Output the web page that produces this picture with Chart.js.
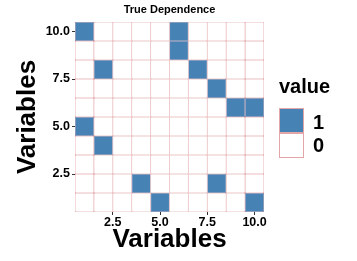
<!DOCTYPE html>
<html><head><meta charset="utf-8">
<script src="https://cdn.jsdelivr.net/npm/chart.js@4/dist/chart.umd.min.js"></script>
<style>
html,body{margin:0;padding:0;background:#fff;}
#wrap{position:relative;width:357px;height:261px;overflow:hidden;}
#c{position:absolute;left:0;top:0;}
.lg{position:absolute;font-family:"Liberation Sans",Arial,sans-serif;font-weight:bold;color:#000;line-height:1;white-space:nowrap;}
.key{position:absolute;box-sizing:border-box;width:25px;height:25px;}
</style></head>
<body>
<div id="wrap">
<canvas id="c" width="357" height="261"></canvas>
<div class="lg" id="lgTitle" style="left:279px;top:76px;font-size:20px;"></div>
<div id="lgItems"></div>
</div>
<script>
// ---- data ----
const xVariables = [1, 2, 3, 4, 5, 6, 7, 8, 9, 10];
const yVariables = [1, 2, 3, 4, 5, 6, 7, 8, 9, 10];
// dependence value per row (y), columns are x = 1..10
const rowY1  = [0,0,0,0,1,0,0,0,0,1];
const rowY2  = [0,0,0,1,0,0,0,1,0,0];
const rowY3  = [0,0,0,0,0,0,0,0,0,0];
const rowY4  = [0,1,0,0,0,0,0,0,0,0];
const rowY5  = [1,0,0,0,0,0,0,0,0,0];
const rowY6  = [0,0,0,0,0,0,0,0,1,1];
const rowY7  = [0,0,0,0,0,0,0,1,0,0];
const rowY8  = [0,1,0,0,0,0,1,0,0,0];
const rowY9  = [0,0,0,0,0,1,0,0,0,0];
const rowY10 = [1,0,0,0,0,1,0,0,0,0];
const rows = [rowY1,rowY2,rowY3,rowY4,rowY5,rowY6,rowY7,rowY8,rowY9,rowY10];
const tickValues = [2.5, 5, 7.5, 10];
const legendValues = [1, 0];
const chartTitle = 'True Dependence';
const axisTitle = 'Variables';
const legendTitle = 'value';

// ---- styles ----
const FONT = '"Liberation Sans", Arial, sans-serif';
const FILL = {1: '#4682B4', 0: '#FFFFFF'};
const EDGE = {1: '#946E8C', 0: '#D98C8F'};

const datasets = yVariables.map((yv, i) => ({
  data: xVariables.map(xv => ({x: xv, y: [yv - 0.5, yv + 0.5]})),
  backgroundColor: rows[i].map(v => FILL[v]),
  borderColor: rows[i].map(v => EDGE[v]),
  borderWidth: 0.55,
  borderSkipped: false,
  grouped: false,
  barPercentage: 1,
  categoryPercentage: 1,
  inflateAmount: 0
}));

const setTicks = s => { s.ticks = tickValues.map(v => ({value: v})); };
const tickFont = {family: FONT, size: 12.5, weight: 'bold'};

new Chart(document.getElementById('c'), {
  type: 'bar',
  data: {datasets},
  options: {
    responsive: false,
    animation: false,
    devicePixelRatio: 1,
    events: [],
    layout: {padding: {left: 0, right: 93, top: 0, bottom: 0}},
    plugins: {
      legend: {display: false},
      tooltip: {enabled: false},
      title: {
        display: true, text: chartTitle, fullSize: false, color: '#000',
        font: {family: FONT, size: 11, weight: 'bold'},
        padding: {top: 3.7, bottom: 5.1}
      }
    },
    scales: {
      x: {
        type: 'linear', min: 0.5, max: 10.5, offset: false,
        afterBuildTicks: setTicks,
        afterFit: s => { s.height = 49; },
        grid: {drawOnChartArea: false, drawTicks: true, tickLength: 3, color: '#333', offset: false},
        border: {display: false},
        ticks: {font: tickFont, color: '#000', padding: 0, maxRotation: 0,
                callback: v => Number(v).toFixed(1)},
        title: {display: true, text: axisTitle, color: '#000',
                font: {family: FONT, size: 26, weight: 'bold'}, padding: {top: 0, bottom: 5.7}}
      },
      y: {
        type: 'linear', min: 0.5, max: 10.5,
        afterBuildTicks: setTicks,
        afterFit: s => { s.width = 75; },
        grid: {drawOnChartArea: false, drawTicks: true, tickLength: 3, color: '#333'},
        border: {display: false},
        ticks: {font: tickFont, color: '#000', padding: 2,
                callback: v => Number(v).toFixed(1)},
        title: {display: true, text: axisTitle, color: '#000',
                font: {family: FONT, size: 26, weight: 'bold'}, padding: {top: 12, bottom: 0}}
      }
    }
  }
});

// ---- legend ----
document.getElementById('lgTitle').textContent = legendTitle;
const items = document.getElementById('lgItems');
legendValues.forEach((v, i) => {
  const key = document.createElement('div');
  key.className = 'key';
  key.style.left = '279px';
  key.style.top = (108 + i * 25) + 'px';
  key.style.background = FILL[v];
  key.style.border = '1px solid #E3A6A8';
  items.appendChild(key);
  const lab = document.createElement('div');
  lab.className = 'lg';
  lab.style.fontSize = '20px';
  lab.style.left = '313px';
  lab.style.top = (111.5 + i * 23.4) + 'px';
  lab.textContent = String(v);
  items.appendChild(lab);
});
</script>
</body></html>
